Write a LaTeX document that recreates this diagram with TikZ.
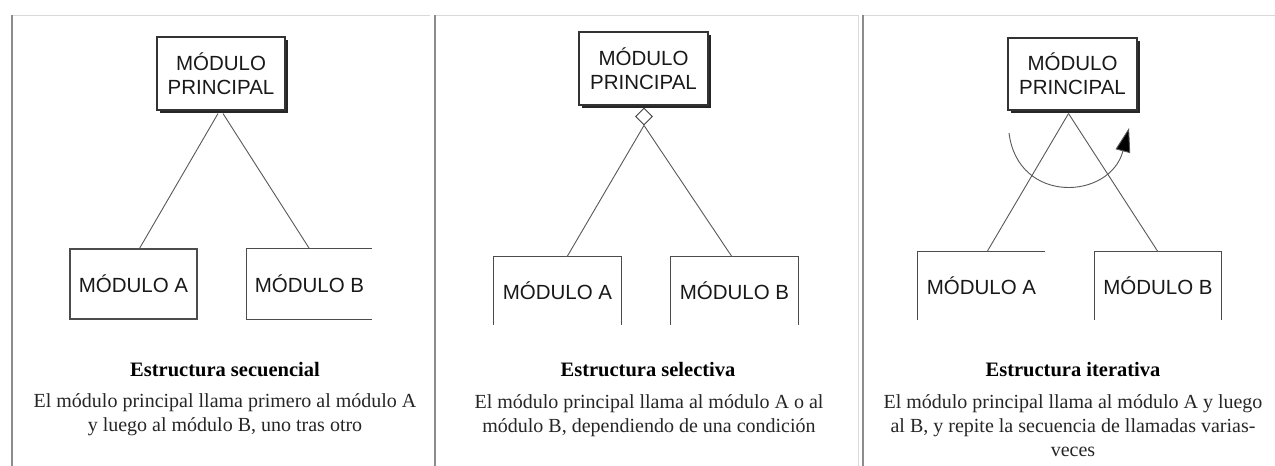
\documentclass[tikz,border=0pt]{standalone}
\usepackage{fontspec}
\setmainfont{Liberation Serif}
\newfontfamily\boxfont{Liberation Sans}
\usetikzlibrary{shapes.geometric,arrows.meta,calc,shadows}

\begin{document}
\begin{tikzpicture}[x=1pt,y=-1pt,
  panelside/.style={draw=black!45, line width=1.2pt},
  paneltop/.style={draw=black!15, line width=0.8pt},
  module/.style={inner sep=0pt, font=\boxfont\fontsize{20.5}{24}\selectfont, text=black!90, align=center},
  mainmod/.style={module, draw=black!80, line width=1.1pt, fill=white,
    drop shadow={shadow xshift=3pt, shadow yshift=-3pt, fill=black!85, opacity=1}},
  edgebox/.style={draw=black!70, line width=1.1pt},
  link/.style={draw=black!65, line width=0.9pt},
  title/.style={font=\bfseries\fontsize{20.5}{24}\selectfont},
  caption/.style={font=\fontsize{20}{24}\selectfont, align=center, text=black!85},
]
\useasboundingbox[fill=white] (0,0) rectangle (1275,466);

% panel frames
\draw[paneltop] (12,15) -- (430,15);
\draw[paneltop] (435,15) -- (858,15) -- (858,470);
\draw[paneltop] (863,15) -- (1280,15);
\draw[panelside] (12,15) -- (12,470);
\draw[panelside] (435,15) -- (435,470);
\draw[panelside] (863,15) -- (863,470);

% ---------- sequential structure ----------
\node[mainmod, minimum width=128pt, minimum height=73pt] (m1) at (221,73.5) {MÓDULO\\PRINCIPAL};
\node[module, draw=black!70, line width=1.1pt, minimum width=127pt, minimum height=70pt] (a1) at (133.5,284) {MÓDULO A};
\node[module, minimum width=125pt, minimum height=70pt] (b1) at (309.5,284) {MÓDULO B};
\draw[edgebox] (b1.north east) -- (b1.north west) -- (b1.south west) -- (b1.south east);
\draw[link] ($(m1.south)+(-3,3)$) -- ($(a1.north)+(6,0)$);
\draw[link] ($(m1.south)+(2,3)$) -- (b1.north);
\node[title] (t1) at (225,370) {Estructura secuencial};
\node[caption] (c1) at (225,415) {El módulo principal llama primero al módulo A\\y luego al módulo B, uno tras otro};

% ---------- selective structure ----------
\node[mainmod, minimum width=129pt, minimum height=73pt] (m2) at (643.5,68.5) {MÓDULO\\PRINCIPAL};
\node[diamond, draw=black!75, fill=white, line width=0.9pt, minimum width=17pt, minimum height=17pt, inner sep=0pt] (d2) at (644,116.5) {};
\node[module, minimum width=127pt, minimum height=68pt] (a2) at (557.5,291) {MÓDULO A};
\node[module, minimum width=127pt, minimum height=68pt] (b2) at (734.5,291) {MÓDULO B};
\draw[edgebox] (a2.south west) -- (a2.north west) -- (a2.north east) -- (a2.south east);
\draw[edgebox] (b2.south west) -- (b2.north west) -- (b2.north east) -- (b2.south east);
\draw[link] (d2.south) -- ($(a2.north)+(9.5,0)$);
\draw[link] (d2.south) -- ($(b2.north)+(-2.5,0)$);
\node[title] (t2) at (648,370) {Estructura selectiva};
\node[caption] (c2) at (649,416) {El módulo principal llama al módulo A o al\\módulo B, dependiendo de una condición};

% ---------- iterative structure ----------
\node[mainmod, minimum width=129pt, minimum height=72pt] (m3) at (1072.5,74) {MÓDULO\\PRINCIPAL};
\node[module, minimum width=127pt, minimum height=68pt] (a3) at (981.5,286) {MÓDULO A};
\node[module, minimum width=126pt, minimum height=68pt] (b3) at (1158,286) {MÓDULO B};
\draw[edgebox] (a3.south west) -- (a3.north west) -- (a3.north east);
\draw[edgebox] (b3.south west) -- (b3.north west) -- (b3.north east) -- (b3.south east);
\draw[link] ($(m3.south)+(-4,3)$) -- ($(a3.north)+(5.5,0)$);
\draw[link] ($(m3.south)+(-4,3)$) -- (b3.north);
% repetition loop around the two calls
\coordinate (loopstart) at (1009,133);
\coordinate (loopend) at (1129,128);
\draw[link, -{Triangle[length=24pt,width=15pt,fill=black]}] (loopstart) .. controls (1018,205) and (1110,200) .. (loopend);
\node[title] (t3) at (1073,370) {Estructura iterativa};
\node[caption] (c3) at (1073,426) {El módulo principal llama al módulo A y luego\\al B, y repite la secuencia de llamadas varias-\\veces};
\end{tikzpicture}
\end{document}
